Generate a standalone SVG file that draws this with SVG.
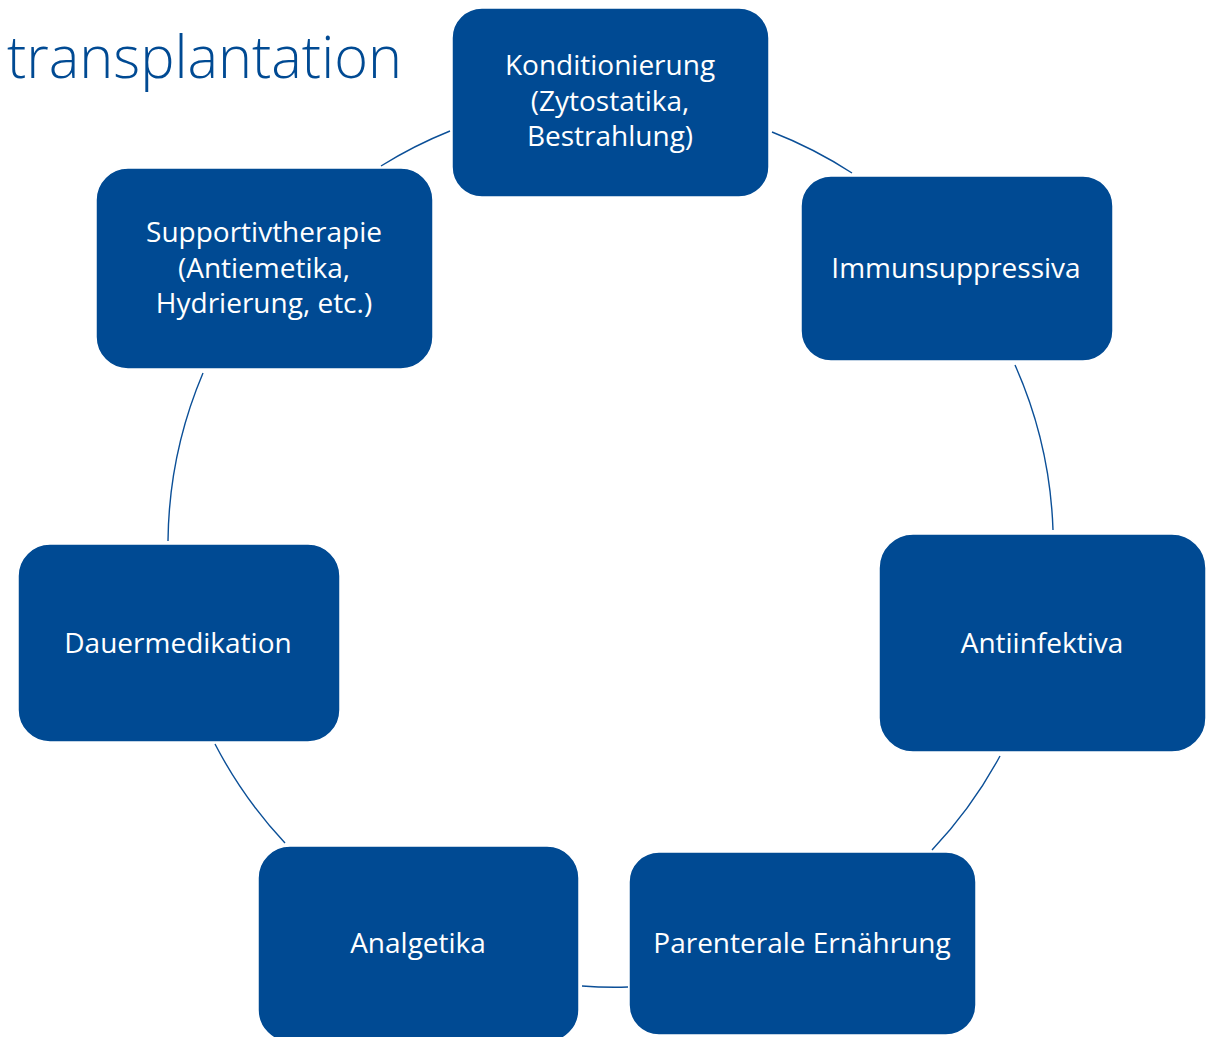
<svg xmlns="http://www.w3.org/2000/svg" width="1213" height="1037" viewBox="0 0 1213 1037">
<style>
.box{fill:#004A93;stroke:#ffffff;stroke-width:1.5}
.lbl{fill:#ffffff;font-family:"Open Sans","Liberation Sans",sans-serif;font-size:28px;text-anchor:middle}
.arc{fill:none;stroke:#0B4F97;stroke-width:1.4}
.title{fill:#004A93;font-family:"Open Sans","Liberation Sans",sans-serif;font-weight:300;font-size:58px}
</style>
<rect width="1213" height="1037" fill="#ffffff"/>
<text class="title" x="7" y="78" textLength="395" lengthAdjust="spacingAndGlyphs">transplantation</text>
<g id="connectors">
<path class="arc" d="M772,132 A442,442 0 0 1 852,173"/>
<path class="arc" d="M1015,365 A442,442 0 0 1 1053,530"/>
<path class="arc" d="M1000,756 A442,442 0 0 1 932,850"/>
<path class="arc" d="M628,987 A442,442 0 0 1 582,986"/>
<path class="arc" d="M285,843 A442,442 0 0 1 215,744"/>
<path class="arc" d="M168,541 A442,442 0 0 1 203,373"/>
<path class="arc" d="M381,166 A442,442 0 0 1 450,131"/>
</g>
<g id="node-konditionierung">
<rect class="box" x="452" y="8" width="317" height="189" rx="30"/>
<text class="lbl" x="610" y="75">Konditionierung</text>
<text class="lbl" x="610" y="111">(Zytostatika,</text>
<text class="lbl" x="610" y="146">Bestrahlung)</text>
</g>
<g id="node-immunsuppressiva">
<rect class="box" x="801" y="176" width="312" height="185" rx="30"/>
<text class="lbl" x="956" y="278">Immunsuppressiva</text>
</g>
<g id="node-antiinfektiva">
<rect class="box" x="879" y="534" width="327" height="218" rx="34"/>
<text class="lbl" x="1042" y="653">Antiinfektiva</text>
</g>
<g id="node-parenterale">
<rect class="box" x="629" y="852" width="347" height="183" rx="30"/>
<text class="lbl" x="802" y="953">Parenterale Ernährung</text>
</g>
<g id="node-analgetika">
<rect class="box" x="258" y="846" width="321" height="196" rx="32"/>
<text class="lbl" x="418" y="953">Analgetika</text>
</g>
<g id="node-dauermedikation">
<rect class="box" x="18" y="544" width="322" height="198" rx="32"/>
<text class="lbl" x="178" y="653">Dauermedikation</text>
</g>
<g id="node-supportivtherapie">
<rect class="box" x="96" y="168" width="337" height="201" rx="32"/>
<text class="lbl" x="264" y="242">Supportivtherapie</text>
<text class="lbl" x="264" y="278">(Antiemetika,</text>
<text class="lbl" x="264" y="313">Hydrierung, etc.)</text>
</g>
</svg>
